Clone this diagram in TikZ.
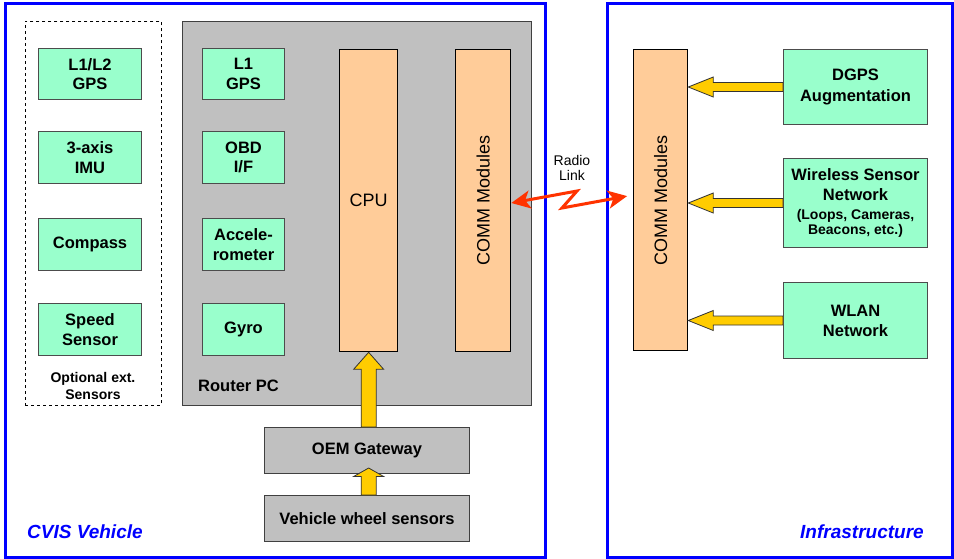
\documentclass[tikz,border=0pt]{standalone}
\usepackage{fontspec}
\setmainfont{Liberation Sans}
\usetikzlibrary{calc,arrows.meta}
\definecolor{boxgreen}{HTML}{99FFCC}
\definecolor{boxorange}{HTML}{FFCC99}
\definecolor{boxgray}{HTML}{C0C0C0}
\definecolor{arrowyellow}{HTML}{FFCC00}
\definecolor{frameblue}{HTML}{0000FF}
\definecolor{radiored}{HTML}{FF3300}
\newcommand{\harrowL}[3]{%
  \draw[fatarrow] let \p1=(#1), \p2=(#2) in
    (\x1,\y1+4.5pt) -- (\x2+#3,\y1+4.5pt) -- (\x2+#3,\y1+10pt) -- (\x2,\y1)
    -- (\x2+#3,\y1-10pt) -- (\x2+#3,\y1-4.5pt) -- (\x1,\y1-4.5pt) -- cycle;}
\newcommand{\varrowU}[3]{%
  \draw[fatarrow] let \p1=(#1), \p2=(#2) in
    (\x1-7.5pt,\y1) -- (\x1-7.5pt,\y2-#3) -- (\x1-15pt,\y2-#3) -- (\x1,\y2)
    -- (\x1+15pt,\y2-#3) -- (\x1+7.5pt,\y2-#3) -- (\x1+7.5pt,\y1) -- cycle;}
\begin{document}
\begin{tikzpicture}[x=1pt,y=-1pt,
  box/.style={anchor=north west, inner sep=0pt, align=center, line width=1pt},
  greenbox/.style={box, draw=black!70, fill=boxgreen, font=\bfseries\fontsize{16.5}{19.5}\selectfont},
  orangebox/.style={box, draw=black, line width=1.3pt, fill=boxorange, font=\fontsize{18}{20}\selectfont},
  graybox/.style={box, draw=black!75, fill=boxgray, font=\bfseries\fontsize{16.5}{19.5}\selectfont},
  frame/.style={anchor=north west, inner sep=0pt, draw=frameblue, line width=3pt},
  framelabel/.style={text=frameblue, font=\bfseries\itshape\fontsize{19}{22}\selectfont, inner sep=0pt},
  fatarrow/.style={draw=black!80, line width=0.8pt, fill=arrowyellow, line join=miter},
  radio/.style={draw=radiored, line width=3pt, line join=miter,
     {Stealth[length=19pt,width=18pt,inset=5pt]}-{Stealth[length=19pt,width=18pt,inset=5pt]}, shorten >=6pt},
  rotlabel/.style={rotate=90, font=\fontsize{18}{20}\selectfont}
]
\useasboundingbox (0,0) rectangle (954,558);
\fill[white] (0,0) rectangle (954,558);

% frames
\node[frame, minimum width=540pt, minimum height=554pt] (vehicle) at (3.5,1.5) {};
\node[frame, minimum width=345pt, minimum height=554pt] (infra) at (606,1.5) {};
\node[framelabel, anchor=west] (vlabel) at (27,532) {CVIS Vehicle};
\node[framelabel, anchor=west] (ilabel) at (800,532) {Infrastructure};

% optional sensors
\node[box, draw=black, dashed, line width=0.8pt, minimum width=136pt, minimum height=384pt] (optional) at (25,21) {};
\node[greenbox, minimum width=103pt, minimum height=51pt] (gps2) at (38,48) {L1/L2\\GPS};
\node[greenbox, minimum width=103pt, minimum height=52pt] (imu) at (38,131) {3-axis\\IMU};
\node[greenbox, minimum width=103pt, minimum height=52pt] (compass) at (38,218) {Compass};
\node[greenbox, minimum width=103pt, minimum height=52pt] (speed) at (38,303) {Speed\\Sensor};
\node[align=center, inner sep=0pt, font=\bfseries\fontsize{14}{17}\selectfont] (optlabel) at (93,386) {Optional ext.\\Sensors};

% router PC
\node[box, draw=black!75, fill=boxgray, minimum width=349pt, minimum height=384pt] (router) at (182,21) {};
\node[anchor=west, inner sep=0pt, font=\bfseries\fontsize{16.5}{19.5}\selectfont] (routerlabel) at (198,386) {Router PC};
\node[greenbox, minimum width=82pt, minimum height=51pt] (gps1) at (202,48) {L1\\GPS};
\node[greenbox, minimum width=82pt, minimum height=52pt] (obd) at (202,131) {OBD\\I/F};
\node[greenbox, minimum width=82pt, minimum height=52pt] (accel) at (202,218) {Accele-\\rometer};
\node[greenbox, minimum width=82pt, minimum height=52pt] (gyro) at (202,303) {Gyro};
\node[orangebox, minimum width=58pt, minimum height=302pt] (cpu) at (339,49) {CPU};
\node[orangebox, minimum width=55pt, minimum height=302pt,
      label={[rotlabel]center:COMM Modules}] (commL) at (455,49) {};

% gateway and wheel sensors
\node[graybox, minimum width=205pt, minimum height=46pt] (oem) at (264,427) {OEM Gateway};
\node[graybox, minimum width=205pt, minimum height=46pt] (wheel) at (264,495) {Vehicle wheel sensors};

\coordinate (oemtip) at ($(cpu.south |- oem.south)+(0,-6)$);
\varrowU{cpu.south |- oem.north}{cpu.south}{17pt}
\varrowU{cpu.south |- wheel.north}{oemtip}{8.5pt}

% infrastructure
\node[orangebox, minimum width=54pt, minimum height=301pt,
      label={[rotlabel]center:COMM Modules}] (commR) at (633,49) {};
\node[greenbox, minimum width=144pt, minimum height=75pt, font=\bfseries\fontsize{16.5}{21}\selectfont] (dgps) at (783,49) {DGPS\\Augmentation};
\node[greenbox, minimum width=144pt, minimum height=89pt, font=\bfseries\fontsize{16.5}{20}\selectfont] (wsn) at (783,158)
   {Wireless Sensor\\Network\\[-1pt]{\fontsize{14}{15}\selectfont (Loops, Cameras,}\\[-5pt]{\fontsize{14}{15}\selectfont Beacons, etc.)}};
\node[greenbox, minimum width=144pt, minimum height=76pt, font=\bfseries\fontsize{16.5}{20}\selectfont] (wlan) at (783,282) {WLAN\\Network};

\harrowL{dgps.west}{commR.east |- dgps.west}{25pt}
\harrowL{wsn.west}{commR.east |- wsn.west}{25pt}
\harrowL{wlan.west}{commR.east |- wlan.west}{25pt}

% radio link
\coordinate (rly1) at (0,203);
\coordinate (rly2) at (0,195);
\coordinate (bend1) at (577,191);
\coordinate (bend2) at (562,208);
\draw[radio] (commL.east |- rly1) -- (bend1) -- (bend2) -- (commR.west |- rly2);
\node[align=center, inner sep=0pt, font=\fontsize{14}{15}\selectfont] (radiolabel) at (572,168) {Radio\\Link};
\end{tikzpicture}
\end{document}
